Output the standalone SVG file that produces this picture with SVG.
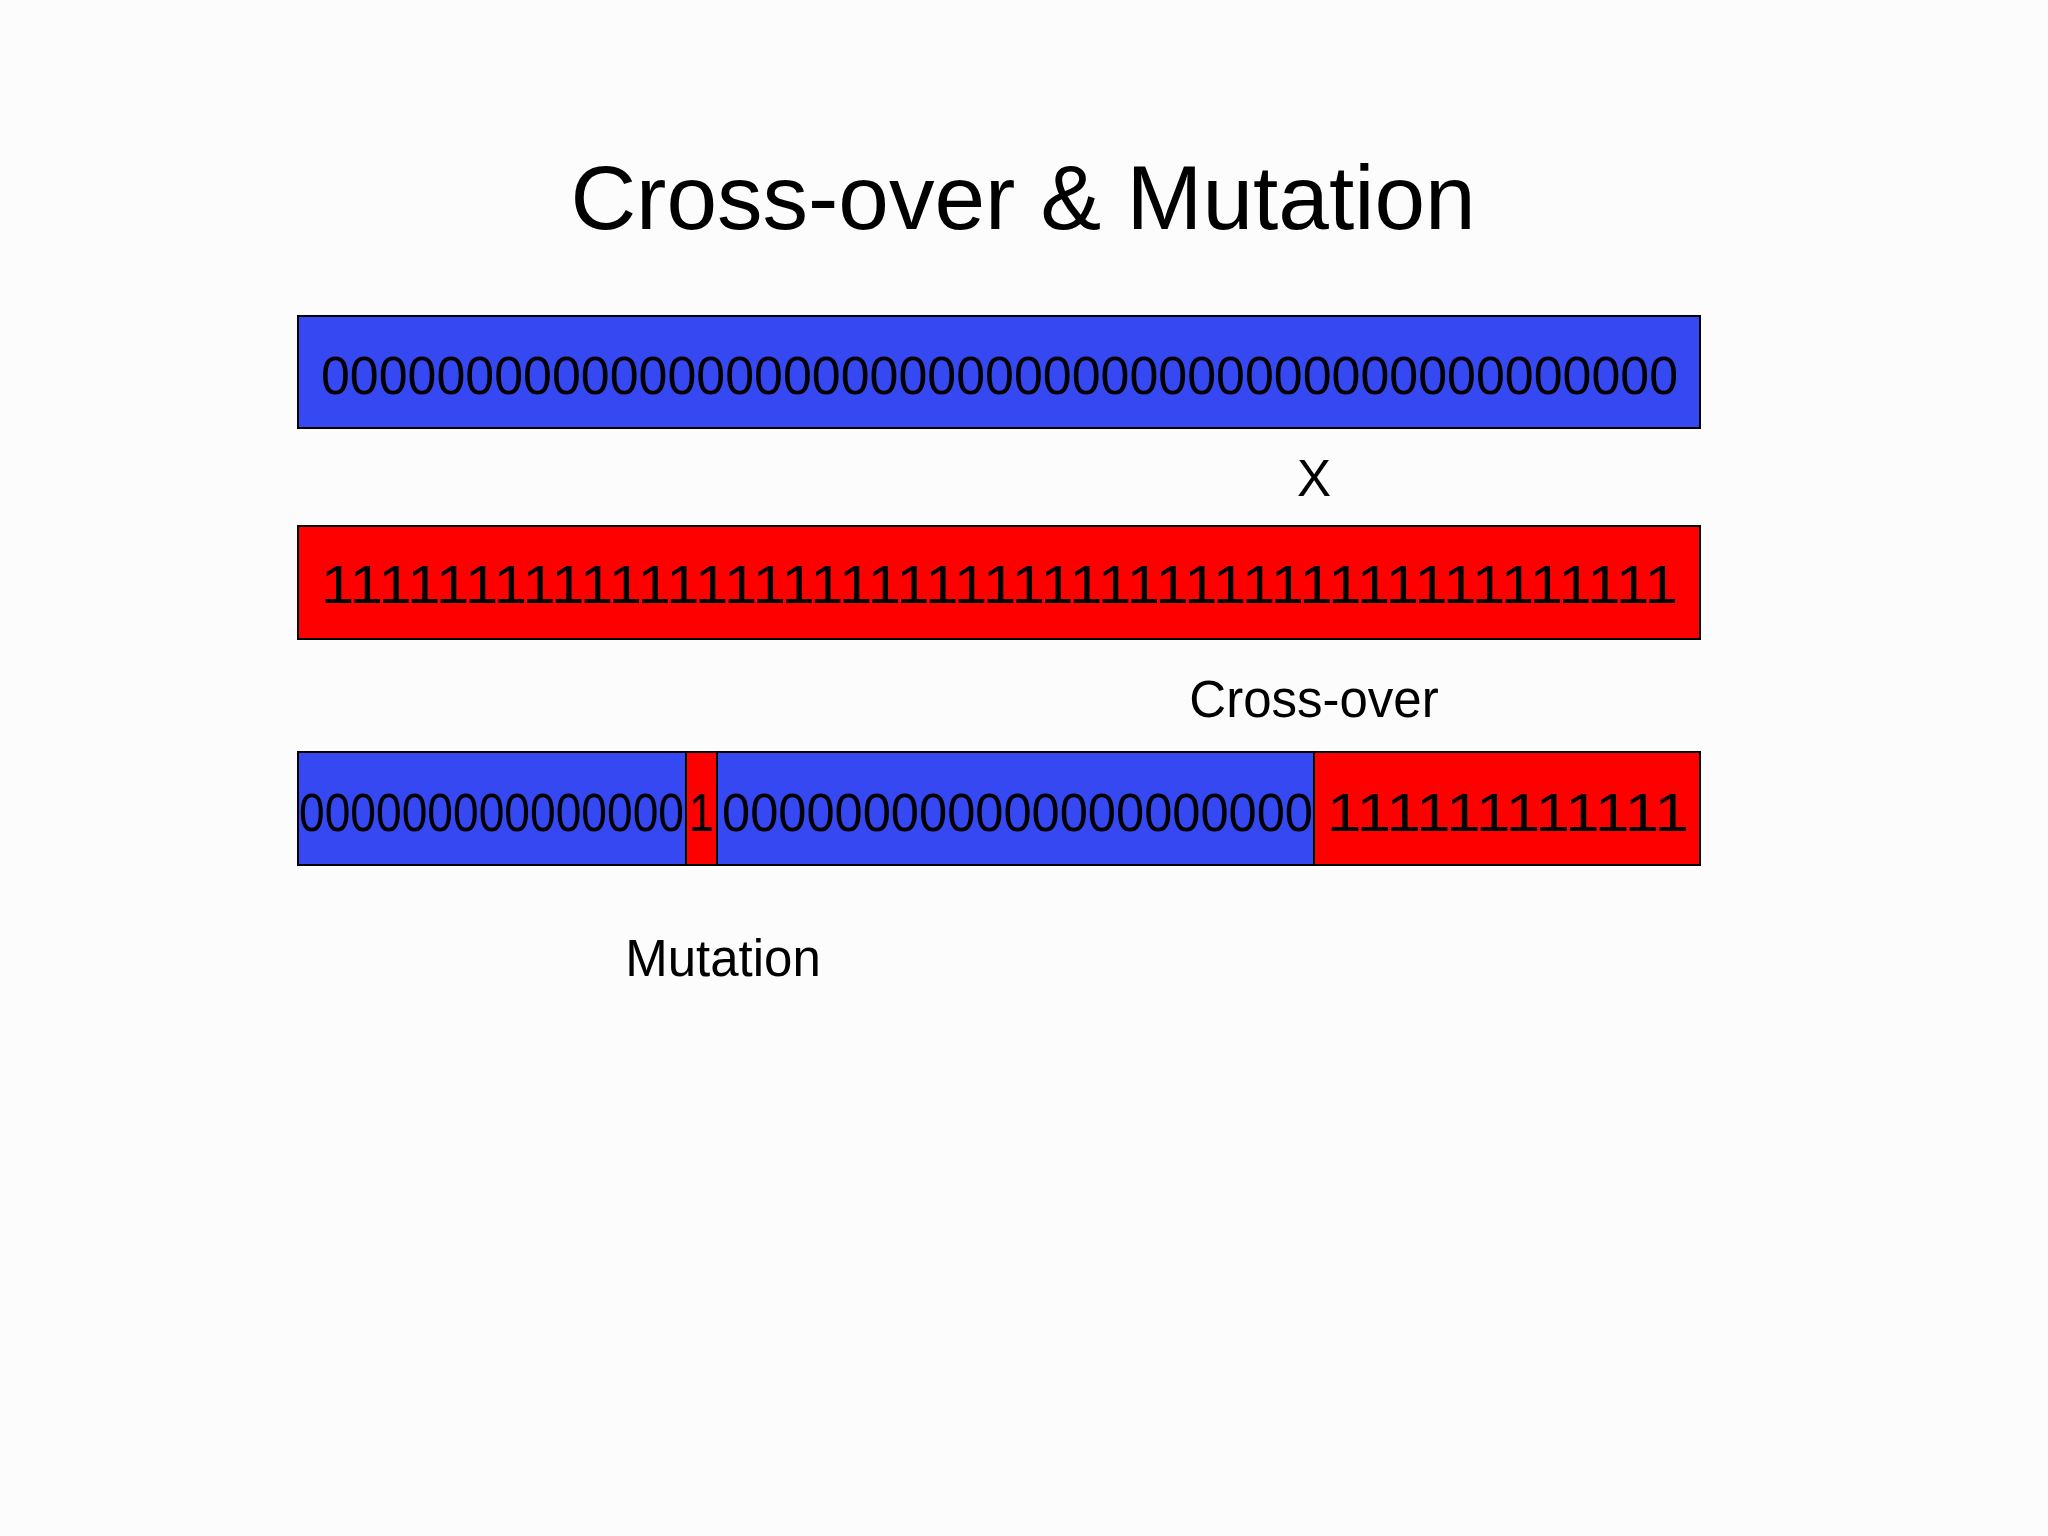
<svg xmlns="http://www.w3.org/2000/svg" width="2048" height="1536" viewBox="0 0 2048 1536">
<style>
text{font-family:"Liberation Sans",Arial,sans-serif;fill:#000}
.b{fill:#3548f2;stroke:#000;stroke-width:2}
.r{fill:#ff0000;stroke:#000;stroke-width:2}
.d{font-size:54px}
.l{font-size:51px;text-anchor:middle}
</style>
<rect width="2048" height="1536" fill="#fcfcfc"/>
<text x="1023" y="229" font-size="91" text-anchor="middle">Cross-over &amp; Mutation</text>
<g id="parent1">
<rect class="b" x="298" y="316" width="1402" height="112"/>
<text class="d" x="321" y="394" textLength="1357" lengthAdjust="spacingAndGlyphs">00000000000000000000000000000000000000000000000</text>
</g>
<g id="x-label"><text class="l" x="1314" y="496">X</text></g>
<g id="parent2">
<rect class="r" x="298" y="526" width="1402" height="113"/>
<text class="d" x="321" y="603" textLength="1357" lengthAdjust="spacingAndGlyphs">11111111111111111111111111111111111111111111111</text>
</g>
<g id="crossover-label"><text class="l" x="1314" y="717">Cross-over</text></g>
<g id="child">
<rect class="b" x="298" y="752" width="388" height="113"/>
<rect class="r" x="686" y="752" width="31" height="113"/>
<rect class="b" x="717" y="752" width="597" height="113"/>
<rect class="r" x="1314" y="752" width="386" height="113"/>
<text class="d" x="299" y="831" textLength="385" lengthAdjust="spacingAndGlyphs">000000000000000</text>
<text class="d" x="689" y="831" textLength="25" lengthAdjust="spacingAndGlyphs">1</text>
<text class="d" x="722" y="831" textLength="591" lengthAdjust="spacingAndGlyphs">000000000000000000000</text>
<text class="d" x="1327" y="831" textLength="362" lengthAdjust="spacingAndGlyphs">111111111111</text>
</g>
<g id="mutation-label"><text class="l" x="723" y="976">Mutation</text></g>
<g id="connectors"/>
</svg>
